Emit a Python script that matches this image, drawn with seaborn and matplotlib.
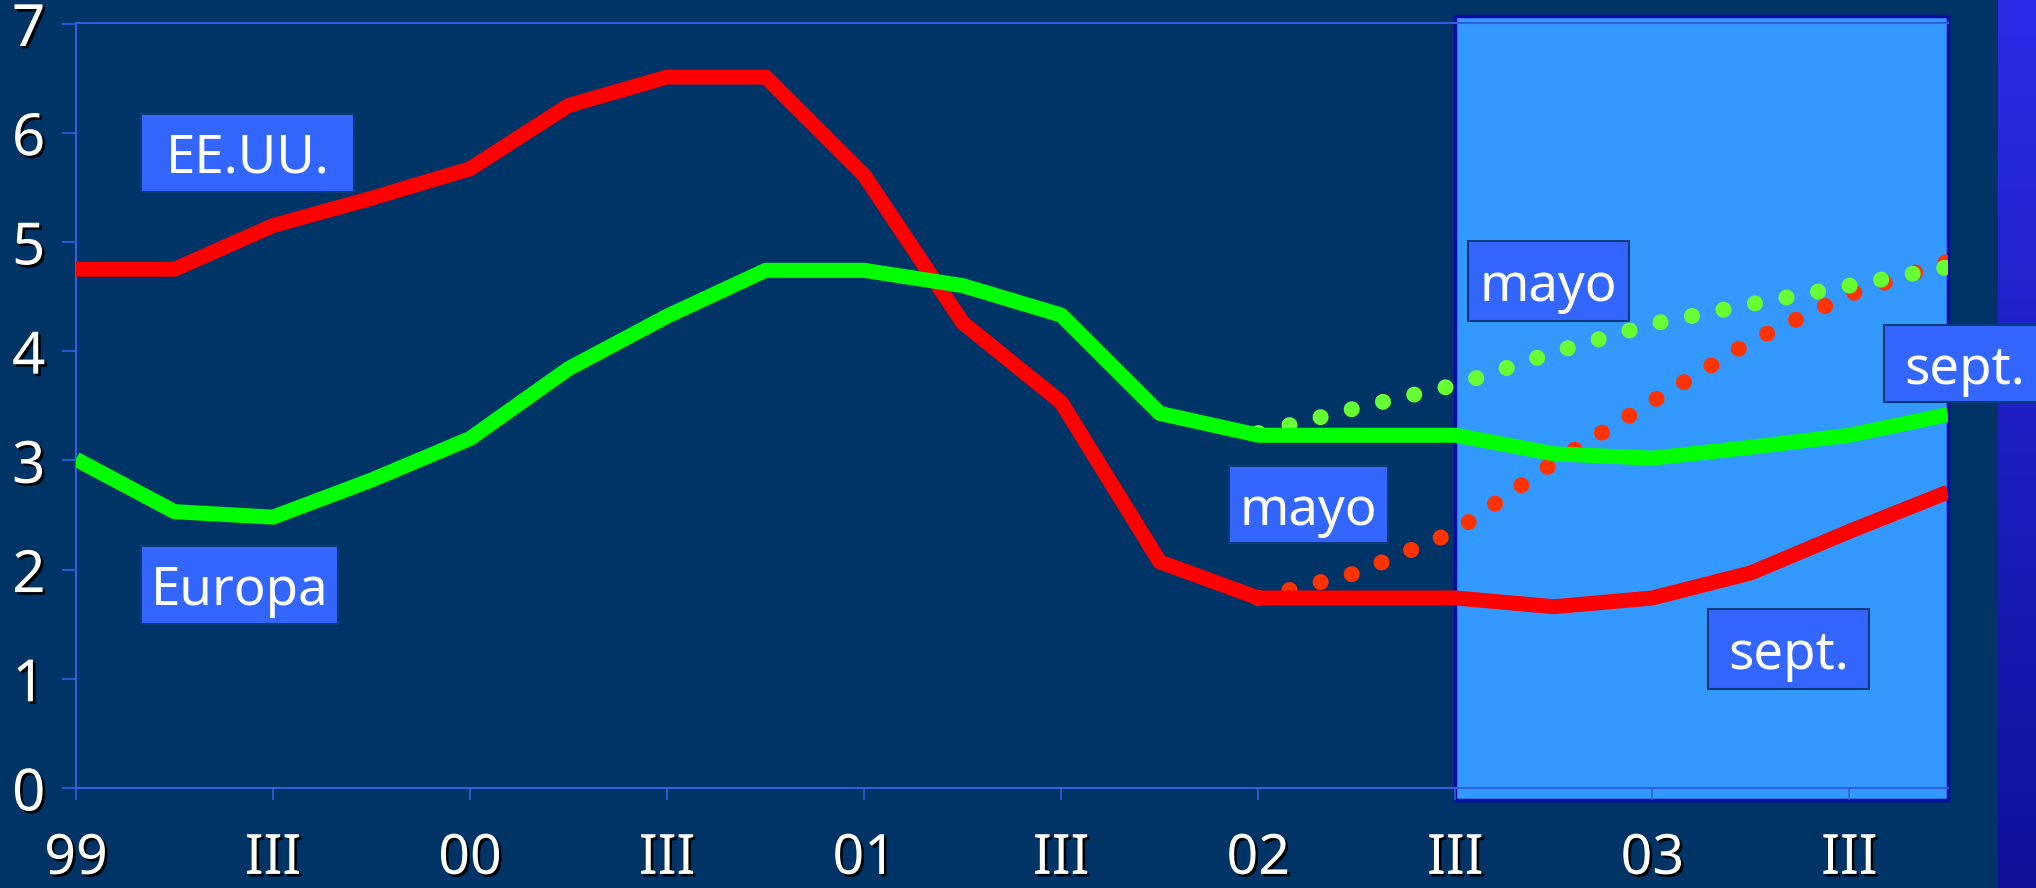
import numpy as np
import pandas as pd
import matplotlib
matplotlib.use("Agg")
import matplotlib.pyplot as plt
import matplotlib.patheffects as pe
from matplotlib.patches import Rectangle
import seaborn as sns

# ---------------- data ----------------
quarters = list(range(20))                      # 1999Q1 ... 2003Q4
eeuu = [4.75, 4.75, 5.15, 5.40, 5.67, 6.25, 6.51, 6.51, 5.61, 4.26,
        3.53, 2.07, 1.74, 1.74, 1.74, 1.66, 1.74, 1.97, 2.35, 2.71]
europa = [3.01, 2.53, 2.48, 2.82, 3.20, 3.84, 4.32, 4.74, 4.74, 4.60,
          4.33, 3.43, 3.23, 3.23, 3.23, 3.06, 3.02, 3.12, 3.23, 3.42]
quarters_mayo = list(range(12, 20))
eeuu_mayo = [1.74, 1.97, 2.35, 2.98, 3.54, 4.09, 4.52, 4.82]
europa_mayo = [3.25, 3.48, 3.69, 3.99, 4.25, 4.43, 4.60, 4.77]
tick_pos = [0, 2, 4, 6, 8, 10, 12, 14, 16, 18]
tick_labels = ["99", "III", "00", "III", "01", "III", "02", "III", "03", "III"]
y_ticks = [0, 1, 2, 3, 4, 5, 6, 7]
forecast_span = (14, 19)

# label boxes: text, x0, x1, y0, y1 (data units)
box_texts = ["EE.UU.", "Europa", "mayo", "mayo", "sept.", "sept."]
box_x0 = [0.66, 0.66, 11.70, 14.13, 18.35, 16.56]
box_x1 = [2.82, 2.66, 13.32, 15.76, 19.98, 18.20]
box_y0 = [5.46, 1.50, 2.24, 4.28, 3.53, 0.91]
box_y1 = [6.17, 2.22, 2.95, 5.01, 4.24, 1.64]

# ---------------- style ----------------
BG = "#003366"
AXC = "#3060e0"
sns.set_theme(style="ticks")
plt.rcParams["font.family"] = ["Noto Sans", "DejaVu Sans"]

fig = plt.figure(figsize=(20.36, 8.88), dpi=100, facecolor=BG)

# right decorative stripe
sax = fig.add_axes([1998 / 2036, 0, 38 / 2036, 1], zorder=0)
grad = np.linspace(0, 1, 256).reshape(-1, 1)
cmap = matplotlib.colors.LinearSegmentedColormap.from_list("s", ["#2c2ce8", "#10109a"])
sax.imshow(grad, aspect="auto", cmap=cmap, extent=[0, 1, 0, 1], origin="upper")
sax.set_axis_off()

ax = fig.add_axes([76 / 2036, 100 / 888, (1948 - 76) / 2036, (788 - 23.5) / 888], zorder=1)
ax.set_facecolor(BG)

# highlighted forecast period
ax.add_patch(Rectangle((forecast_span[0], -0.11), forecast_span[1] - forecast_span[0], 7.18,
                       facecolor="#3399ff", edgecolor="#0a0aa8", linewidth=2.5,
                       zorder=0.5, clip_on=False))

lw = 10.8
dot_lw = 11.5
sns.lineplot(x=quarters_mayo, y=eeuu_mayo, ax=ax, color="#ff3300", linewidth=dot_lw,
             linestyle=(0, (0.01, 2.0)), dash_capstyle="round", estimator=None,
             sort=False, zorder=2)
sns.lineplot(x=quarters_mayo, y=europa_mayo, ax=ax, color="#66ff33", linewidth=dot_lw,
             linestyle=(0, (0.01, 2.0)), dash_capstyle="round", estimator=None,
             sort=False, zorder=2.1)
sns.lineplot(x=quarters, y=eeuu, ax=ax, color="#ff0000", linewidth=lw,
             solid_capstyle="butt", estimator=None, sort=False, zorder=3)
sns.lineplot(x=quarters, y=europa, ax=ax, color="#00ff00", linewidth=lw,
             solid_capstyle="butt", estimator=None, sort=False, zorder=3.1)

ax.set_xlim(0, 19)
ax.set_ylim(0, 7)
ax.set_xlabel("")
ax.set_ylabel("")

for s in ["left", "bottom", "top"]:
    ax.spines[s].set_color(AXC)
    ax.spines[s].set_linewidth(1.5)
    ax.spines[s].set_zorder(1)
ax.spines["right"].set_visible(False)

ax.set_xticks(tick_pos)
ax.set_xticklabels(tick_labels)
ax.set_yticks(y_ticks)
ax.set_yticklabels([str(v) for v in y_ticks])
ax.tick_params(axis="x", colors=AXC, length=8.6, width=1.2, pad=23,
               labelcolor="white", labelsize=40)
ax.tick_params(axis="y", colors=AXC, length=10, width=1.2, pad=12,
               labelcolor="white", labelsize=42)
shadow = [pe.withSimplePatchShadow(offset=(1.8, -1.8), shadow_rgbFace="black", alpha=1.0)]
for lab in ax.get_xticklabels() + ax.get_yticklabels():
    lab.set_path_effects(shadow)
    lab.set_family(["Noto Sans", "DejaVu Sans"])

# label boxes
for t, x0, x1, y0, y1 in zip(box_texts, box_x0, box_x1, box_y0, box_y1):
    ax.add_patch(Rectangle((x0, y0), x1 - x0, y1 - y0, facecolor="#3366ff",
                           edgecolor="#0b3a7a", linewidth=1.5, zorder=5, clip_on=False))
    ax.text((x0 + x1) / 2, (y0 + y1) / 2, t, color="white", fontsize=38,
            ha="center", va="center_baseline", zorder=6, clip_on=False)

fig.savefig("out.png", dpi=100, facecolor=BG)
